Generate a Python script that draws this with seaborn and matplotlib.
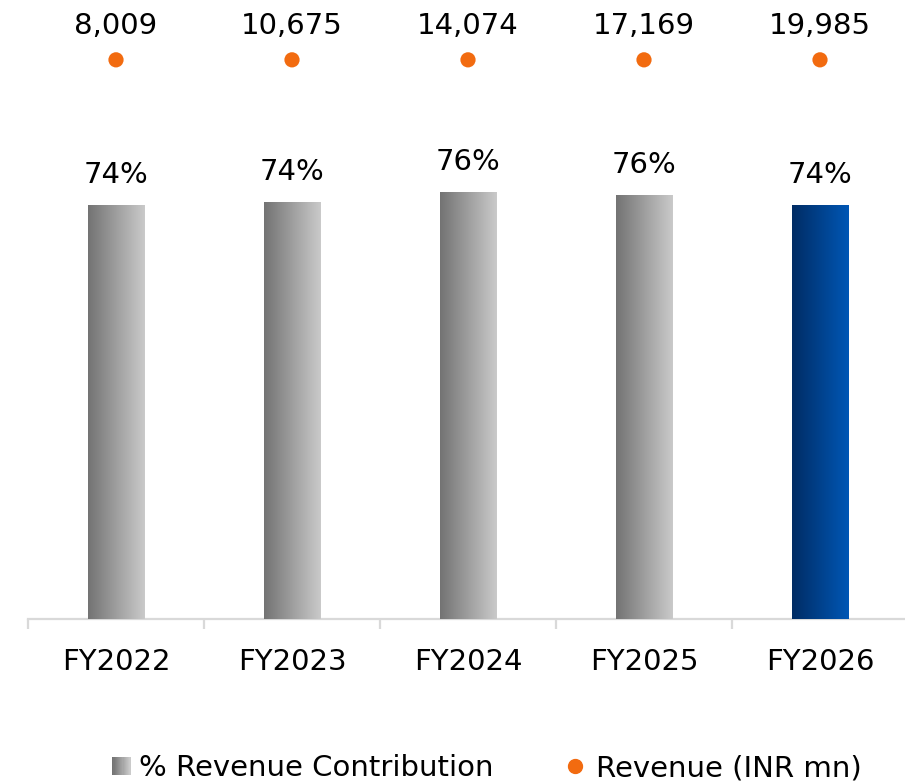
import numpy as np
import pandas as pd
import seaborn as sns
import matplotlib.pyplot as plt
from matplotlib.colors import LinearSegmentedColormap
from matplotlib.legend_handler import HandlerBase
from matplotlib.patches import Rectangle
from matplotlib.lines import Line2D

# data
years = ['FY2022', 'FY2023', 'FY2024', 'FY2025', 'FY2026']
contribution = [73.9, 74.4, 76.2, 75.7, 73.9]
contribution_labels = ['74%', '74%', '76%', '76%', '74%']
revenue = [8009, 10675, 14074, 17169, 19985]

df = pd.DataFrame({'year': years, 'share': contribution, 'revenue': revenue})

sns.set_style('white')
plt.rcParams['font.family'] = ['DejaVu Sans']
plt.rcParams['text.color'] = 'black'
plt.rcParams['xtick.color'] = 'black'

grey = LinearSegmentedColormap.from_list('grey', ['#737373', '#cacaca'])
blue = LinearSegmentedColormap.from_list('blue', ['#002c64', '#0057b5'])
orange = '#f26b10'
fs = 21

fig = plt.figure(figsize=(9.05, 7.83), dpi=100)
ax = fig.add_axes([28/905, 164/783, 880/905, 619/783])

sns.barplot(data=df, x='year', y='share', width=0.32, color='#999999', ax=ax)

# gradient fill on each bar
grad = np.linspace(0, 1, 256).reshape(1, -1)
for i, bar in enumerate(list(ax.patches)):
    x0, y0 = bar.get_x(), bar.get_y()
    w, h = bar.get_width(), bar.get_height()
    cmap = blue if i == len(years) - 1 else grey
    ax.imshow(grad, cmap=cmap, aspect='auto', extent=(x0, x0 + w, y0, y0 + h), zorder=3)
    bar.set_visible(False)
    ax.annotate(contribution_labels[i], (x0 + w / 2, y0 + h), xytext=(0, 22),
                textcoords='offset points', ha='center', va='center', fontsize=fs)

# revenue dots sit on a fixed level above the bars
dot_level = 100
pos = np.arange(len(years))
sns.scatterplot(x=pos, y=[dot_level] * len(years), color=orange, s=120,
                edgecolor='none', ax=ax, zorder=4)
for i, r in enumerate(revenue):
    ax.annotate(f'{r:,}', (pos[i], dot_level), xytext=(0, 24),
                textcoords='offset points', ha='center', va='center', fontsize=fs)

ax.set_xlim(-0.5, 4.5)
ax.set_ylim(0, 110.7)
ax.set_xlabel('')
ax.set_ylabel('')
ax.set_yticks([])
for s in ['top', 'left', 'right']:
    ax.spines[s].set_visible(False)
ax.spines['bottom'].set_color('#d9d9d9')
ax.spines['bottom'].set_linewidth(1.6)
ax.set_xticks(pos)
ax.set_xticklabels(years, fontsize=fs)
ax.set_xticks(np.arange(-0.5, 5, 1), minor=True)
ax.tick_params(axis='x', which='major', bottom=True, length=0, pad=21)
ax.tick_params(axis='x', which='minor', bottom=True, length=7, width=1.6,
               color='#d9d9d9', direction='out')


class GradientHandler(HandlerBase):
    def create_artists(self, legend, orig_handle, xdescent, ydescent,
                       width, height, fontsize, trans):
        side = 13
        x0 = -xdescent + width - side
        y0 = -ydescent + (height - side) / 2
        n = 16
        arts = []
        for k in range(n):
            r = Rectangle((x0 + k * side / n, y0), side / n + 0.3, side,
                          facecolor=grey(k / (n - 1)), edgecolor='none', transform=trans)
            arts.append(r)
        return arts


bar_handle = Rectangle((0, 0), 1, 1)
dot_handle = Line2D([], [], marker='o', linestyle='none', color=orange, markersize=10)
fig.legend([bar_handle, dot_handle], ['% Revenue Contribution', 'Revenue (INR mn)'],
           handler_map={Rectangle: GradientHandler()},
           loc='center', bbox_to_anchor=(0.535, 1 - 768/783), ncol=2, frameon=False,
           fontsize=fs, handlelength=0.8, handletextpad=0.3, columnspacing=2.4)

fig.savefig('out.png', dpi=100)
